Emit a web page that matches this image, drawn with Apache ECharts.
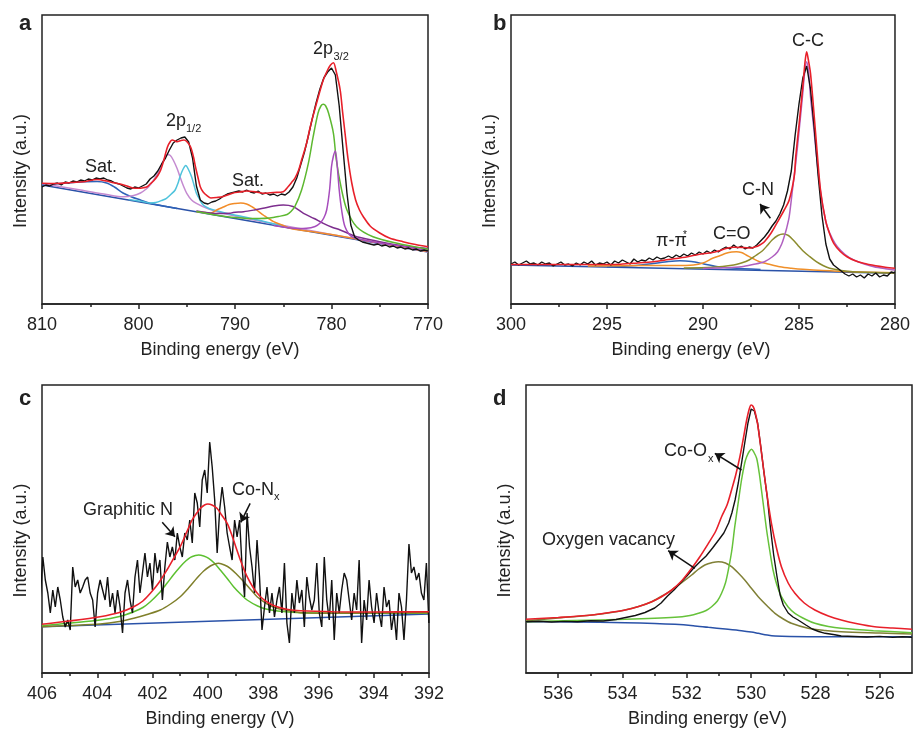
<!DOCTYPE html>
<html>
<head>
<meta charset="utf-8">
<title>XPS spectra</title>
<script src="https://cdn.jsdelivr.net/npm/echarts@6/dist/echarts.min.js"></script>
<style>
  html, body { margin: 0; padding: 0; background: #fff; }
  #chart { width: 913px; height: 730px; }
</style>
</head>
<body>
<div id="chart"></div>
<script>
// intensities are arbitrary units

// ---- panel a : Co 2p ----
var aRawStart = 810, aRawStep = 0.4;
var aRaw = [
  117,119,118,120,121,119,122,121,123,122,
  124,123,125,124,126,125,126,124,123,121,
  120,118,116,115,117,116,118,120,125,128,
  133,140,146,154,161,164,166,167,162,146,
  118,104,101,100,102,103,105,108,110,111,
  112,113,112,114,112,111,113,110,111,109,
  110,108,110,109,112,117,126,139,152,168,
  185,201,215,226,232,236,229,198,154,111,
  79,67,64,62,61,60,59,60,58,59,
  57,58,56,57,55,56,54,55,53,54,
  53
];
var aFit = [[810,120.7],[808.5,120.5],[807,121.5],[805.7,122.3],[804.3,124.5],[803.3,123],[802.6,121.3],[801.9,120],[801.2,118],[800.6,116],[800,115.7],[799.5,116.3],[799.1,117.3],[798.8,120],[798.4,123.5],[798,128.5],[797.7,134],[797.4,143],[797,157],[796.7,162.5],[796.5,164],[796.2,163],[796,162.3],[795.6,163.5],[795.3,164],[795,162.5],[794.6,157],[794.3,147],[794.1,137.3],[793.8,125],[793.6,117.3],[793.3,112],[792.9,108.3],[792.5,106],[791.9,106.5],[791.2,107.5],[790.2,111],[789.5,112],[788.8,113],[787.8,112],[787.1,110.7],[786,111.5],[785,112.3],[784.5,117.3],[784.1,122],[783.8,125.7],[783.4,134],[783.1,144],[782.6,160],[782.2,177.3],[781.8,192],[781.4,206],[780.85,224],[780.4,234],[780.1,239],[779.8,241.3],[779.5,232],[779.1,214],[778.85,192],[778.6,171],[778.3,146],[777.9,121],[777.5,104],[777.1,94],[776.7,87.3],[776,78],[775,71],[774,66],[772.6,62.3],[771.3,59.5],[770,57.3]];
var aBase = [[810,119],[770,52]];
var aSat1 = [[810,119.5],[808,120.5],[806.8,121.5],[805.5,122.3],[804.3,122.5],[803.3,121],[802.5,117],[801.6,111],[800.7,107],[799.8,104],[798.9,101],[798.1,99.2],[797,97.3],[796,95.6]];
var aP12a = [[810,120.5],[806,114],[803.3,109.5],[801.6,107.3],[800.5,108.5],[799.8,111],[799.2,115],[798.8,119],[798.3,126],[797.9,132.3],[797.6,139],[797.3,145.7],[797,149.5],[796.7,148.5],[796.4,144],[796,135.5],[795.7,127.3],[795.3,117],[795,110.7],[794.5,104],[794,100.7],[792.9,95.7],[791.5,91.5],[790,88],[787,82],[785,78.5],[780,69.5],[775,60.8],[770,52.3]];
var aP12b = [[801,104.5],[799.6,102.5],[798.8,101],[798.2,101.5],[797.6,103.5],[797.1,105.7],[796.6,110],[796.2,114],[795.9,121],[795.7,127.3],[795.4,134.5],[795.1,138.5],[794.8,134],[794.5,127.3],[794.25,119],[794,110.7],[793.6,103.5],[793.3,99],[792.7,95.5],[792.2,94],[791,91],[789,87],[787,82.5],[785,78]];
var aSat2 = [[794,92.5],[792.5,91],[791.9,94],[791.2,97],[790.6,99.5],[790,100.5],[789.4,101],[788.8,100],[788.2,97],[787.75,94],[787,88.5],[786,82.3],[785,78.5],[784.3,75.7],[783,73.5],[781.9,72.3],[780,69.5],[775,61],[770,52.5]];
var aSat3 = [[794,93],[792,90.5],[790.5,90.7],[790.2,91.5],[789.1,92.3],[788,94],[787.1,95.7],[786,98],[785,99],[784,97.5],[782.9,90.7],[781.8,85.5],[780.85,80.7],[780,77],[779.1,74],[778,69.5],[777.4,67.3],[775,62.3],[772.5,58],[770,55.5]];
var aP32a = [[794,92.5],[791,87.5],[789,85.8],[787.5,85.5],[786.4,86],[785.5,87.5],[784.6,89.5],[784.2,92.5],[783.8,97.3],[783.1,114],[782.4,140.7],[781.9,167.3],[781.4,190.7],[781.1,198],[780.85,199.7],[780.6,198],[780.3,190.7],[779.8,170.7],[779.5,144],[778.95,114],[778.4,94],[777.4,77.3],[775.7,67.3],[773.2,60.7],[770,54.7]];
var aP32b = [[786,78.5],[783.5,75.5],[782.6,75.7],[781.7,77.5],[781.2,80.7],[780.8,86],[780.5,94],[780.2,114],[780,137.3],[779.8,148],[779.6,153],[779.4,137.3],[779.2,114],[778.95,94],[778.6,77.3],[777.9,67.3],[776.7,64],[775,61],[772,56.5],[770,53]];

// ---- panel b : C 1s ----
var bRawStart = 300, bRawStep = 0.2;
var bRaw = [
  40,42,39,41,43,40,41,39,42,40,
  41,38,40,42,39,40,38,41,39,42,
  40,43,39,41,40,42,39,43,41,44,
  42,40,45,42,44,43,46,44,47,45,
  46,48,46,49,47,50,48,51,49,52,
  50,53,51,54,52,55,57,55,59,56,
  58,55,57,56,59,63,67,72,78,83,
  90,99,113,133,169,200,226,238,215,175,
  128,88,60,45,39,36,33,30,28,30,
  27,29,26,30,28,31,27,29,28,32,
  31
];
var bFit = [[300,39.5],[298,39.5],[296,39.5],[294.3,39.8],[293.4,41],[292.6,42.3],[291.8,44.5],[290.8,47.3],[290.24,49.5],[289.5,51.5],[289.2,53],[288.8,55.5],[288.4,56.7],[287.9,56.5],[287.5,56],[287.2,57.5],[287.0,59.5],[286.8,62.3],[286.46,70.7],[286.11,82.3],[285.77,94],[285.51,104],[285.25,127.3],[285.17,147.3],[284.99,180.7],[284.77,224],[284.68,243],[284.6,252.3],[284.52,245],[284.4,230.7],[284.22,190.7],[284.05,150.7],[283.88,114],[283.62,84],[283.4,70],[283.19,60.7],[282.85,52.5],[282.5,47.3],[282.1,43.5],[281.64,40.7],[281,38.2],[280.5,36.8],[280,35.7]];
var bBase = [[300,39],[280,30.7]];
var bPi = [[295,37],[293.5,38.5],[292.6,40.5],[291.8,42.5],[291.2,43.3],[290.6,42.5],[290,40.3],[289.3,37.5],[288.5,36],[287,34.5]];
var bCO = [[296,38],[293,38.5],[291.5,38.5],[290.5,39],[290,41],[289.5,45.7],[289.1,48.5],[288.8,50.7],[288.5,52],[288.26,52.3],[288,51.5],[287.75,49],[287.4,45.5],[287.05,42.3],[286.5,39.5],[286,37.3],[285.4,35.8],[284.8,34.7],[283,32.8],[280,31.3]];
var bCN = [[291,36],[289.5,36.7],[288.4,39],[288,41],[287.6,44],[287.25,48.5],[286.9,53.3],[286.65,58.5],[286.4,64],[286.1,68.5],[285.82,70],[285.55,68.5],[285.3,64],[285.05,58.5],[284.8,53.3],[284.45,47.5],[284.1,42.3],[283.75,38.5],[283.4,35.7],[282.8,33.5],[282.2,32.3],[280,31]];
var bCC = [[290,35.5],[288.9,36.2],[288,37.3],[287.4,39.5],[286.8,42.3],[286.4,47],[286.11,52.3],[285.9,60],[285.77,67.3],[285.64,76],[285.51,87.3],[285.34,114],[285.17,140.7],[284.99,174],[284.82,207.3],[284.7,232],[284.6,242.3],[284.5,232],[284.4,207.3],[284.22,174],[284.05,140.7],[283.84,107.3],[283.68,90],[283.53,77.3],[283.25,65],[283.0,57.3],[282.6,49.5],[282.15,44],[281.6,40],[281.1,37.3],[280.5,35.3],[280,34]];

// ---- panel c : N 1s ----
var cRawStart = 406.06, cRawStep = 0.0901;
var cRaw = [
  76,116,93,80,60,83,66,86,73,56,
  46,53,43,106,86,93,80,86,93,96,
  80,73,46,80,93,83,73,96,66,80,
  60,83,66,40,80,93,73,60,96,113,
  80,100,120,96,110,83,120,100,113,73,
  106,131,116,126,113,140,126,116,140,133,
  153,130,180,170,146,193,203,180,231,206,
  173,120,163,186,166,140,126,113,153,136,
  153,106,76,160,126,106,80,133,96,43,
  66,86,60,80,56,73,86,60,110,50,
  30,80,60,93,70,83,46,96,76,63,
  73,110,60,46,116,73,53,93,33,80,
  60,83,100,93,73,53,80,63,113,30,
  73,53,93,66,50,80,60,46,86,66,
  73,43,60,33,80,66,33,73,129,100,
  106,93,100,80,73,110,50
];
var cFit = [[406,48.7],[405,52],[403.9,56.3],[403.2,60.5],[402.68,66.3],[402.35,72],[402.08,79.7],[401.78,90],[401.48,103],[401.25,114],[401,126.3],[400.78,140],[400.57,153],[400.4,160],[400.27,164.7],[400.12,168],[400,169],[399.85,168],[399.67,164.7],[399.5,158],[399.3,149.7],[399.12,137],[398.95,123],[398.77,109],[398.58,96.3],[398.35,85],[398.1,76.3],[397.8,70],[397.5,66.3],[397.1,63.5],[396.65,62.3],[395.45,61.3],[394,61],[392,61.3]];
var cBase = [[406,46.3],[392,59]];
var cGraphitic = [[406,47.3],[405,50],[403.9,53],[403.2,56.5],[402.68,61.3],[402.35,65.5],[402.08,71.3],[401.78,79.5],[401.48,89.7],[401.25,98],[401,106.3],[400.8,112],[400.63,115.7],[400.45,117.5],[400.33,118],[400.15,117],[399.97,114.7],[399.75,109.5],[399.55,103],[399.3,94.5],[399.07,86.3],[398.8,78.5],[398.58,73],[398.2,67],[397.86,63.7],[397.3,61.5],[396.65,60.3],[395,60],[392,59.7]];
var cCoN = [[406,46.3],[405,47.5],[403.9,49],[403.2,51.5],[402.68,54.7],[402.2,58.5],[401.72,63],[401.35,69],[401,76.3],[400.7,85],[400.4,94.7],[400.15,102],[399.91,107],[399.75,109],[399.61,109.7],[399.4,108],[399.19,104.7],[398.95,98.5],[398.7,91.3],[398.45,83.5],[398.22,76.3],[397.85,69],[397.5,64.7],[397,62],[396.65,60.3],[395,59.8],[392,60.3]];

// ---- panel d : O 1s ----
var dRaw = [[537,51.3],[536.6,51.8],[536.2,51],[535.8,51.6],[535.4,51.2],[535,52.3],[534.6,52],[534.2,53.5],[533.9,55.5],[533.6,57.5],[533.3,60.5],[533.0,65],[532.8,70],[532.6,77],[532.4,83],[532.2,90],[532.0,97],[531.8,104.5],[531.6,111],[531.4,117],[531.2,125],[531.0,133.5],[530.85,140],[530.7,150],[530.6,160],[530.5,173],[530.4,190],[530.3,209.7],[530.2,230],[530.1,250],[530.0,264],[529.9,262],[529.8,250],[529.7,226],[529.6,200],[529.5,176],[529.4,145],[529.3,118],[529.2,97],[529.1,78],[529.0,68],[528.85,60],[528.7,56],[528.54,53],[528.3,48],[528.1,44],[527.9,41.5],[527.7,39.7],[527.4,38.2],[527.2,37],[526.8,36.5],[526.4,36],[526,36.6],[525.6,35.6],[525.3,36.2],[525,35.7]];
var dFit = [[537,53.7],[536,55.5],[534.95,58],[534.4,60.5],[533.92,63],[533.5,66.5],[533.09,71.3],[532.8,76],[532.47,83],[532.15,92.5],[531.85,104.7],[531.6,116],[531.33,129.7],[531.1,142],[530.92,156.3],[530.75,168],[530.61,183],[530.48,198],[530.35,216.3],[530.24,235],[530.14,253],[530.06,264],[530.0,268],[529.94,266.5],[529.88,261.3],[529.8,249],[529.73,233],[529.65,213],[529.57,193],[529.47,170],[529.37,149.7],[529.22,126],[529.06,106.3],[528.85,90],[528.64,79.7],[528.35,70],[528.02,63],[527.6,57],[527.2,53],[526.7,49.3],[526.16,46.3],[525.6,45],[525,43.7]];
var dBase = [[537,51.3],[535.5,51],[533.92,50.3],[533,49.6],[532.37,48.7],[531.8,47.3],[531.33,45.7],[530.8,44],[530.3,42.3],[530,41],[529.78,39.7],[529.5,38],[529.26,37],[528.8,36.4],[528.23,36.3],[525,36.3]];
var dCoO = [[537,51.3],[535.5,52.5],[533.92,53.7],[532.37,55.7],[531.9,57.5],[531.64,59.7],[531.4,62.5],[531.23,66.3],[531.05,72],[530.92,79.7],[530.8,90],[530.71,103],[530.6,123],[530.51,146.3],[530.4,171],[530.3,193],[530.2,210],[530.14,216.3],[530.06,221.5],[529.99,223.7],[529.92,221],[529.83,214.7],[529.75,200],[529.68,183],[529.6,163],[529.52,143],[529.42,122],[529.32,103],[529.2,88],[529.06,76.3],[528.85,66],[528.64,59.7],[528.3,53.5],[528.02,49.7],[527.6,46.5],[527.2,44.7],[526.2,42.3],[525,40.3]];
var dVac = [[537,52.3],[536,55],[534.95,58],[534.4,60.2],[533.92,63],[533.5,66.5],[533.09,71.3],[532.8,76.5],[532.47,83],[532.15,90.5],[531.85,98],[531.65,103.5],[531.44,108],[531.2,110.5],[531.02,111.3],[530.8,110],[530.61,106.3],[530.4,100],[530.2,93],[530.0,85],[529.78,76.3],[529.5,67],[529.26,59.7],[529.0,54],[528.75,49.7],[528.23,44.7],[527.7,42.5],[527.2,41.3],[526,40],[525,39]];
var dMajorTicks = [526, 528, 530, 532, 534, 536];
var dMinorTicks = [527, 529, 531, 533, 535];

// ---- helpers ----
var FONT = '"Liberation Sans", Arial, sans-serif';
var INK = '#222';

function pairs(start, step, vals) {
  return vals.map(function (v, i) { return [+(start - i * step).toFixed(4), v]; });
}

function line(ax, data, color, width, smooth) {
  return {
    type: 'line', xAxisIndex: ax, yAxisIndex: ax, data: data,
    symbol: 'none', smooth: smooth ? 0.3 : false,
    lineStyle: { color: color, width: width }, silent: true
  };
}

function arrows(list) {
  return {
    silent: true, symbol: ['none', 'arrow'], symbolSize: 9,
    lineStyle: { color: '#111', width: 1.5, type: 'solid' },
    label: { show: false },
    data: list.map(function (a) { return [{ coord: a[0] }, { coord: a[1] }]; })
  };
}

function xAx(i, min, max, interval, name, pad) {
  return {
    type: 'value', gridIndex: i, inverse: true, min: min, max: max, interval: interval,
    axisLine: { show: true, lineStyle: { color: INK, width: 1.5 } },
    axisTick: { show: true, length: 5, lineStyle: { color: INK, width: 1.5 } },
    minorTick: { show: true, splitNumber: 2, length: 3, lineStyle: { color: INK, width: 1.5 } },
    axisLabel: { color: INK, fontSize: 18, fontFamily: FONT, margin: 12 },
    splitLine: { show: false },
    name: name, nameLocation: 'middle', nameGap: 37,
    nameTextStyle: { color: INK, fontSize: 18, fontFamily: FONT, padding: [0, pad, 0, 0] }
  };
}

function yAx(i, max) {
  return {
    type: 'value', gridIndex: i, min: 0, max: max,
    axisLine: { show: false }, axisTick: { show: false }, axisLabel: { show: false },
    splitLine: { show: false },
    name: 'Intensity (a.u.)', nameLocation: 'middle', nameGap: 12,
    nameTextStyle: { color: INK, fontSize: 18, fontFamily: FONT, padding: [0, 23, 0, 0] }
  };
}

function txt(x, y, s, size, bold) {
  return {
    type: 'text', x: x, y: y, silent: true,
    style: {
      text: s, fill: INK, align: 'left', verticalAlign: 'middle',
      font: (bold ? 'bold ' : '') + size + 'px ' + FONT
    }
  };
}

var gridBox = { show: true, borderColor: INK, borderWidth: 1.5, backgroundColor: 'transparent' };

var dAxis = xAx(3, 525, 537, null, 'Binding energy (eV)', 23);
delete dAxis.interval;
dAxis.minorTick = { show: false };
dAxis.axisTick.customValues = dMajorTicks;
dAxis.axisLabel.customValues = dMajorTicks;

var dMinorAxis = {
  type: 'value', gridIndex: 3, inverse: true, min: 525, max: 537, position: 'bottom',
  axisLine: { show: false }, axisLabel: { show: false }, splitLine: { show: false },
  axisTick: { show: true, length: 3, customValues: dMinorTicks, lineStyle: { color: INK, width: 1.5 } }
};

var baseA = line(0, aBase, '#2a52a8', 1.5, false);
var baseB = line(1, bBase, '#2a52a8', 1.5, false);
baseB.markLine = arrows([[[286.49, 85.7], [287.03, 100]]]);
var baseC = line(2, cBase, '#2a52a8', 1.5, false);
baseC.markLine = arrows([[[401.65, 150.7], [401.19, 136.3]], [[398.47, 169.7], [398.81, 150.7]]]);
var baseD = line(3, dBase, '#2a52a8', 1.5, true);
baseD.markLine = arrows([[[530.30, 203], [531.13, 219.7]], [[531.75, 104.7], [532.58, 122.3]]]);

var option = {
  animation: false,
  backgroundColor: '#fff',
  grid: [
    Object.assign({ left: 42, top: 15, width: 386, height: 289 }, gridBox),
    Object.assign({ left: 511, top: 15, width: 387, height: 289 }, gridBox),
    Object.assign({ left: 42, top: 385, width: 387, height: 288 }, gridBox),
    Object.assign({ left: 526, top: 385, width: 386, height: 288 }, gridBox)
  ],
  xAxis: [
    xAx(0, 770, 810, 10, 'Binding energy (eV)', 30),
    xAx(1, 280, 300, 5, 'Binding energy (eV)', 24),
    xAx(2, 392, 406, 2, 'Binding energy (V)', 31),
    dAxis,
    dMinorAxis
  ],
  yAxis: [yAx(0, 289), yAx(1, 289), yAx(2, 288), yAx(3, 288)],
  series: [
    baseA,
    line(0, aSat1, '#2d62b8', 1.5, true),
    line(0, aP12a, '#c48ad0', 1.5, true),
    line(0, aP12b, '#4fc3dc', 1.5, true),
    line(0, aSat2, '#f28c28', 1.5, true),
    line(0, aSat3, '#7d2e8e', 1.5, true),
    line(0, aP32a, '#5db830', 1.5, true),
    line(0, aP32b, '#a64cbc', 1.5, true),
    line(0, pairs(aRawStart, aRawStep, aRaw), '#111', 1.4, false),
    line(0, aFit, '#e8202a', 1.6, true),

    baseB,
    line(1, bPi, '#2d62b8', 1.5, true),
    line(1, bCO, '#f0902a', 1.5, true),
    line(1, bCN, '#8c8c2e', 1.5, true),
    line(1, bCC, '#b060c0', 1.5, true),
    line(1, pairs(bRawStart, bRawStep, bRaw), '#111', 1.4, false),
    line(1, bFit, '#e8202a', 1.6, true),

    baseC,
    line(2, cGraphitic, '#5cc030', 1.5, true),
    line(2, cCoN, '#7f7f2a', 1.5, true),
    line(2, pairs(cRawStart, cRawStep, cRaw), '#111', 1.4, false),
    line(2, cFit, '#e8202a', 1.6, true),

    baseD,
    line(3, dVac, '#808036', 1.5, true),
    line(3, dCoO, '#66c23a', 1.5, true),
    line(3, dRaw, '#111', 1.4, false),
    line(3, dFit, '#e8202a', 1.6, true)
  ],
  graphic: [
    txt(19, 24, 'a', 22, true),
    txt(85, 167, 'Sat.', 18),
    txt(166, 121, '2p', 18),
    txt(186, 129, '1/2', 11),
    txt(232, 181, 'Sat.', 18),
    txt(313, 49, '2p', 18),
    txt(333.5, 57, '3/2', 11),

    txt(493, 24, 'b', 22, true),
    txt(792, 41, 'C-C', 18),
    txt(742, 190, 'C-N', 18),
    txt(713, 234, 'C=O', 18),
    txt(656, 241, 'π-π', 18),
    txt(683, 235, '*', 10),

    txt(19, 399, 'c', 22, true),
    txt(83, 510, 'Graphitic N', 18),
    txt(232, 490, 'Co-N', 18),
    txt(274, 497, 'x', 11),

    txt(493, 399, 'd', 22, true),
    txt(664, 451, 'Co-O', 18),
    txt(708, 459, 'x', 11),
    txt(542, 540, 'Oxygen vacancy', 18)
  ]
};

var chart = echarts.init(document.getElementById('chart'), null, { renderer: 'canvas' });
chart.setOption(option);
</script>
</body>
</html>
